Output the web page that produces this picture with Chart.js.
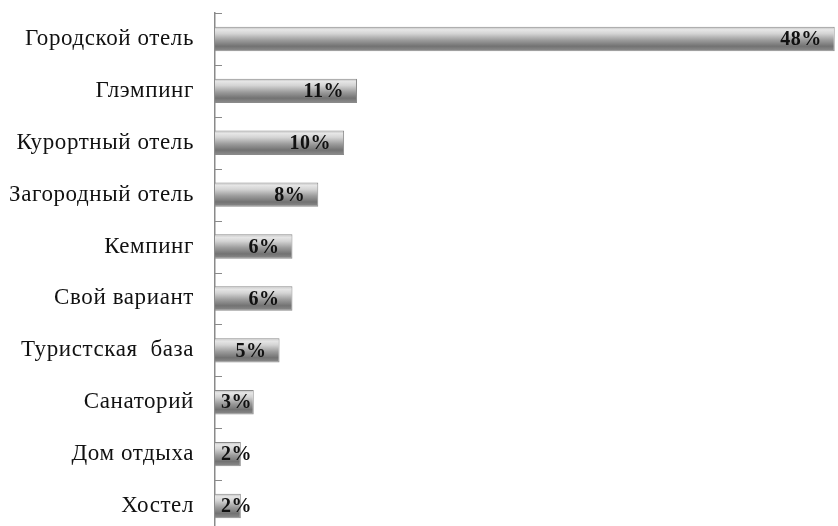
<!DOCTYPE html>
<html><head><meta charset="utf-8">
<script src="https://cdn.jsdelivr.net/npm/chart.js@4.4.1/dist/chart.umd.min.js"></script>
<style>
html,body{margin:0;padding:0;background:#fff;overflow:hidden;width:838px;height:526px;}
#wrap{position:relative;width:838px;height:538px;}
</style></head>
<body>
<div id="wrap"><canvas id="c" width="838" height="538"></canvas></div>
<script>
const categories = ["Городской отель","Глэмпинг","Курортный отель","Загородный отель","Кемпинг","Свой вариант","Туристская  база","Санаторий","Дом отдыха","Хостел"];
const shares = [48, 11, 10, 8, 6, 6, 5, 3, 2, 2];
const valueLabels = ["48%","11%","10%","8%","6%","6%","5%","3%","2%","2%"];

const CAT_PCT = 1.0, BAR_PCT = 0.47;

function barGradient(ctx){
  const chart = ctx.chart;
  const ys = chart.scales.y;
  if (!ys || ctx.dataIndex === undefined) return '#999';
  const y = ys.getPixelForValue(ctx.dataIndex);
  const step = ys.height / categories.length;
  const h = step * CAT_PCT * BAR_PCT;
  if (!isFinite(y) || !isFinite(h) || h <= 0) return '#999';
  const g = chart.ctx.createLinearGradient(0, y - h/2, 0, y + h/2);
  g.addColorStop(0, '#bdbdbd');
  g.addColorStop(0.12, '#e6e6e6');
  g.addColorStop(0.28, '#d4d4d4');
  g.addColorStop(0.55, '#9c9c9c');
  g.addColorStop(0.8, '#727272');
  g.addColorStop(1, '#8e8e8e');
  return g;
}

const spacing = {
  id: 'spacing',
  beforeDraw(chart){ chart.ctx.letterSpacing = '0.6px'; }
};

const labelPlugin = {
  id: 'valLabels',
  afterDatasetsDraw(chart){
    const c = chart.ctx;
    const meta = chart.getDatasetMeta(0);
    c.save();
    c.letterSpacing = '0.5px';
    c.font = 'bold 20px "Liberation Serif", "Times New Roman", serif';
    c.fillStyle = '#111';
    c.textBaseline = 'middle';
    c.textAlign = 'left';
    meta.data.forEach((el, i) => {
      const t = valueLabels[i];
      const w = c.measureText(t).width;
      const x = Math.max(el.x - 13 - w, chart.chartArea.left + 6);
      c.fillText(t, x, el.y + 1);
    });
    c.restore();
  }
};

const innerTicks = {
  id: 'innerTicks',
  afterDraw(chart){
    const ys = chart.scales.y;
    const c = chart.ctx;
    const left = chart.chartArea.left;
    c.save();
    c.strokeStyle = '#8a8a8a';
    c.lineWidth = 1;
    for (let i = 0; i <= categories.length; i++) {
      const y = Math.round(ys.getPixelForValue(i - 0.5)) + 0.5;
      c.beginPath();
      c.moveTo(left, y);
      c.lineTo(left + 7, y);
      c.stroke();
    }
    c.restore();
  }
};

new Chart(document.getElementById('c'), {
  type: 'bar',
  data: {
    labels: categories,
    datasets: [{
      data: shares,
      backgroundColor: barGradient,
      borderColor: '#8a8a8a',
      borderWidth: 1,
      borderSkipped: 'left',
      categoryPercentage: CAT_PCT,
      barPercentage: BAR_PCT
    }]
  },
  options: {
    indexAxis: 'y',
    responsive: false,
    animation: false,
    layout: { padding: { top: 13, right: 2, bottom: 6, left: 0 } },
    plugins: { legend: { display: false }, tooltip: { enabled: false } },
    scales: {
      x: {
        display: false,
        min: 0,
        max: 48.1
      },
      y: {
        afterFit(scale){ scale.width = 215; scale.paddingTop = 0; scale.paddingBottom = 0; },
        grid: { display: true, drawOnChartArea: false, drawTicks: false, offset: true },
        border: { display: true, color: '#8a8a8a', width: 1.5 },
        ticks: {
          padding: 21,
          color: '#111',
          font: { family: '"Liberation Serif", "Times New Roman", serif', size: 23 }
        }
      }
    }
  },
  plugins: [spacing, labelPlugin, innerTicks]
});
</script>
</body></html>
